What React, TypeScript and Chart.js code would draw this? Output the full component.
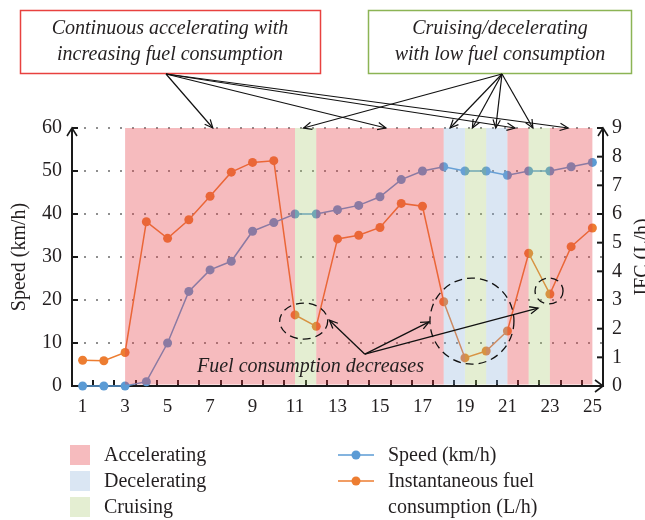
import { useEffect, useRef } from "react";
import { Chart, registerables } from "chart.js";

Chart.register(...registerables);

// Time steps (s) along the horizontal axis
const timeSteps = [1, 2, 3, 4, 5, 6, 7, 8, 9, 10, 11, 12, 13, 14, 15, 16, 17, 18, 19, 20, 21, 22, 23, 24, 25];
// Vehicle speed (km/h), left axis
const speedKmh = [0, 0, 0, 1, 10, 22, 27, 29, 36, 38, 40, 40, 41, 42, 44, 48, 50, 51, 50, 50, 49, 50, 50, 51, 52];
// Instantaneous fuel consumption (L/h), right axis
const fuelLh = [0.9, 0.88, 1.17, 5.73, 5.15, 5.8, 6.62, 7.46, 7.8, 7.86, 2.48, 2.08, 5.13, 5.26, 5.53, 6.37, 6.27, 2.94, 0.98, 1.22, 1.92, 4.63, 3.21, 4.86, 5.51];
// Labelled positions on the time axis
const xTickValues = [1, 3, 5, 7, 9, 11, 13, 15, 17, 19, 21, 23, 25];

// Driving phases: start, end and kind of each shaded interval
const phaseStart = [3, 11, 12, 18, 19, 20, 21, 22, 23];
const phaseEnd = [11, 12, 18, 19, 20, 21, 22, 23, 25];
const phaseKind = ["Accelerating", "Cruising", "Accelerating", "Decelerating", "Cruising", "Decelerating", "Accelerating", "Cruising", "Accelerating"];
const phaseNames = ["Accelerating", "Decelerating", "Cruising"];

const seriesNames = ["Speed (km/h)", "Instantaneous fuel consumption (L/h)"];
const leftAxisTitle = "Speed (km/h)";
const rightAxisTitle = "IFC (L/h)";

const FONT = '"Liberation Serif", "DejaVu Serif", serif';
const INK = "#231f20";
const AXIS = "#1a1a1a";
const BLUE = "#5b9bd5";
const ORANGE = "#ed7d31";
const PHASE_FILL: Record<string, string> = {
  Accelerating: "rgba(230, 60, 70, 0.35)",
  Decelerating: "rgba(132, 172, 215, 0.3)",
  Cruising: "rgba(165, 198, 105, 0.3)",
};

function line(ctx: CanvasRenderingContext2D, x1: number, y1: number, x2: number, y2: number) {
  ctx.beginPath();
  ctx.moveTo(x1, y1);
  ctx.lineTo(x2, y2);
  ctx.stroke();
}

function arrow(ctx: CanvasRenderingContext2D, x1: number, y1: number, x2: number, y2: number, head = 9) {
  line(ctx, x1, y1, x2, y2);
  const a = Math.atan2(y2 - y1, x2 - x1);
  ctx.beginPath();
  ctx.moveTo(x2 - head * Math.cos(a - 0.42), y2 - head * Math.sin(a - 0.42));
  ctx.lineTo(x2, y2);
  ctx.lineTo(x2 - head * Math.cos(a + 0.42), y2 - head * Math.sin(a + 0.42));
  ctx.stroke();
}

function dashedEllipse(ctx: CanvasRenderingContext2D, cx: number, cy: number, rx: number, ry: number) {
  ctx.save();
  ctx.setLineDash([8, 5]);
  ctx.beginPath();
  ctx.ellipse(cx, cy, rx, ry, 0, 0, Math.PI * 2);
  ctx.stroke();
  ctx.restore();
}

// Callout arrows (time-axis positions of the arrow tips on the top edge)
const accelArrowTargets = [7.13, 15.28, 21.36, 23.86];
const cruiseArrowTargets = [11.4, 18.3, 19.35, 20.45, 22.2];

const decorations = {
  id: "decorations",
  beforeDatasetsDraw(chart: Chart) {
    const { ctx, chartArea } = chart;
    const { left, right, top, bottom } = chartArea;
    const x = chart.scales.x;
    const y = chart.scales.y;
    const y1 = chart.scales.y1;
    ctx.save();
    ctx.strokeStyle = AXIS;
    ctx.lineWidth = 2;
    // tick marks between time steps, pointing into the plot
    for (let i = 0; i < timeSteps.length - 1; i++) {
      const px = Math.round(x.getPixelForValue((timeSteps[i] + timeSteps[i + 1]) / 2));
      line(ctx, px, bottom, px, bottom - 6);
    }
    y.ticks.forEach((t) => {
      const py = y.getPixelForValue(t.value);
      line(ctx, left, py, left + 6, py);
    });
    y1.ticks.forEach((t) => {
      const py = y1.getPixelForValue(t.value);
      line(ctx, right, py, right - 6, py);
    });
    // axis lines with arrowheads
    line(ctx, left, top, left, bottom + 1);
    line(ctx, right, top, right, bottom + 1);
    line(ctx, left - 1, bottom, right, bottom);
    ctx.lineWidth = 1.6;
    for (const ax of [left, right]) {
      ctx.beginPath();
      ctx.moveTo(ax - 5, top + 8);
      ctx.lineTo(ax, top);
      ctx.lineTo(ax + 5, top + 8);
      ctx.stroke();
    }
    ctx.beginPath();
    ctx.moveTo(right - 8, bottom - 6);
    ctx.lineTo(right, bottom);
    ctx.lineTo(right - 8, bottom + 6);
    ctx.stroke();
    ctx.restore();
  },
  afterDatasetsDraw(chart: Chart) {
    const { ctx, chartArea } = chart;
    const { top, bottom } = chartArea;
    const x = chart.scales.x;
    const y = chart.scales.y;
    const px = (v: number) => x.getPixelForValue(v);
    const py = (v: number) => y.getPixelForValue(v);

    // translucent phase bands laid over the curves
    ctx.save();
    phaseStart.forEach((s, i) => {
      ctx.fillStyle = PHASE_FILL[phaseKind[i]];
      const x0 = px(s);
      const x1 = px(phaseEnd[i]);
      ctx.fillRect(x0, top, x1 - x0, bottom - 1.5 - top);
    });
    ctx.restore();

    ctx.save();
    ctx.strokeStyle = "#111";
    ctx.fillStyle = INK;
    ctx.lineWidth = 1.3;

    // dashed rings around the fuel drops
    dashedEllipse(ctx, px(11.41), py(15.1), 24, 18);
    dashedEllipse(ctx, px(19.33), py(15.1), 42, 43);
    dashedEllipse(ctx, px(22.96), py(22.1), 14, 13);

    // "Fuel consumption decreases" callout
    const ox = px(14.29);
    const oy = py(7.4);
    arrow(ctx, ox, oy, px(12.62), py(15.3));
    arrow(ctx, ox, oy, px(17.31), py(14.9));
    arrow(ctx, ox, oy, px(22.44), py(18.1));
    ctx.font = `italic 20px ${FONT}`;
    ctx.textAlign = "left";
    ctx.textBaseline = "middle";
    ctx.fillText("Fuel consumption decreases", 197, 367);

    // boxed phase descriptions above the plot
    ctx.lineWidth = 1.5;
    ctx.strokeStyle = "#e8413f";
    ctx.strokeRect(20.5, 10.5, 300, 63);
    ctx.strokeStyle = "#8cb455";
    ctx.strokeRect(368.5, 10.5, 263, 63);
    ctx.textAlign = "center";
    ctx.fillText("Continuous accelerating with", 170, 29);
    ctx.fillText("increasing fuel consumption", 170, 55);
    ctx.fillText("Cruising/decelerating", 500, 29);
    ctx.fillText("with low fuel consumption", 500, 55);

    ctx.strokeStyle = "#111";
    ctx.lineWidth = 1.2;
    accelArrowTargets.forEach((v) => arrow(ctx, 166, 74, px(v), top));
    cruiseArrowTargets.forEach((v) => arrow(ctx, 502, 74, px(v), top));

    // axis titles
    ctx.font = `20px ${FONT}`;
    ctx.textAlign = "center";
    ctx.textBaseline = "middle";
    ctx.save();
    ctx.translate(19.5, (top + bottom) / 2);
    ctx.rotate(-Math.PI / 2);
    ctx.fillText(leftAxisTitle, 0, 0);
    ctx.restore();
    ctx.save();
    ctx.translate(642.5, (top + bottom) / 2);
    ctx.rotate(-Math.PI / 2);
    ctx.fillText(rightAxisTitle, 0, 0);
    ctx.restore();

    // legend
    ctx.textAlign = "left";
    phaseNames.forEach((name, i) => {
      const cy = 455 + i * 26;
      ctx.fillStyle = PHASE_FILL[name];
      ctx.fillRect(70, cy - 10, 20, 20);
      ctx.fillStyle = INK;
      ctx.fillText(name, 104, cy + 1);
    });
    const seriesColors = [BLUE, ORANGE];
    const seriesLines = [[seriesNames[0]], ["Instantaneous fuel", "consumption (L/h)"]];
    seriesColors.forEach((c, i) => {
      const cy = 455 + i * 26;
      ctx.strokeStyle = c;
      ctx.fillStyle = c;
      ctx.lineWidth = 1.5;
      line(ctx, 338, cy, 374, cy);
      ctx.beginPath();
      ctx.arc(356, cy, 4.5, 0, Math.PI * 2);
      ctx.fill();
      ctx.fillStyle = INK;
      seriesLines[i].forEach((t, k) => ctx.fillText(t, 388, cy + 1 + k * 26));
    });
    ctx.restore();
  },
};

export default function App() {
  const canvasRef = useRef<HTMLCanvasElement | null>(null);

  useEffect(() => {
    const canvas = canvasRef.current;
    if (!canvas) return;
    const chart = new Chart(canvas, {
      type: "line",
      data: {
        datasets: [
          {
            label: seriesNames[0],
            data: timeSteps.map((t, i) => ({ x: t, y: speedKmh[i] })),
            yAxisID: "y",
            borderColor: BLUE,
            backgroundColor: BLUE,
            pointBackgroundColor: BLUE,
            pointBorderWidth: 0,
            pointRadius: 4.5,
            borderWidth: 1.5,
            clip: false,
          },
          {
            label: seriesNames[1],
            data: timeSteps.map((t, i) => ({ x: t, y: fuelLh[i] })),
            yAxisID: "y1",
            borderColor: ORANGE,
            backgroundColor: ORANGE,
            pointBackgroundColor: ORANGE,
            pointBorderWidth: 0,
            pointRadius: 4.5,
            borderWidth: 1.5,
            clip: false,
          },
        ],
      },
      options: {
        responsive: false,
        animation: false,
        events: [],
        layout: { padding: { top: 128, left: 0, right: 0, bottom: 0 } },
        plugins: { legend: { display: false }, tooltip: { enabled: false } },
        scales: {
          x: {
            type: "linear",
            position: "bottom",
            min: 0.5,
            max: 25.5,
            afterBuildTicks: (s: any) => {
              s.ticks = xTickValues.map((v) => ({ value: v }));
            },
            afterFit: (s: any) => {
              s.height = 134;
            },
            grid: { display: false, drawTicks: false },
            border: { display: false },
            ticks: {
              autoSkip: false,
              maxRotation: 0,
              padding: 10,
              color: INK,
              font: { family: FONT, size: 19 },
            },
          },
          y: {
            position: "left",
            min: 0,
            max: 60,
            afterFit: (s: any) => {
              s.width = 72;
            },
            grid: { color: "#8f8f8f", lineWidth: 2, drawTicks: false },
            border: { display: false, dash: [2, 10] },
            ticks: { stepSize: 10, padding: 10, color: INK, font: { family: FONT, size: 20 } },
          },
          y1: {
            position: "right",
            min: 0,
            max: 9,
            afterFit: (s: any) => {
              s.width = 42;
            },
            grid: { display: false, drawTicks: false },
            border: { display: false },
            ticks: { stepSize: 1, padding: 9, color: INK, font: { family: FONT, size: 20 } },
          },
        },
      },
      plugins: [decorations],
    });
    return () => chart.destroy();
  }, []);

  return (
    <div style={{ position: "absolute", left: 0, top: 0, width: 645, height: 520, overflow: "hidden", background: "#fff" }}>
      <canvas ref={canvasRef} width={645} height={520} style={{ display: "block" }} />
    </div>
  );
}
